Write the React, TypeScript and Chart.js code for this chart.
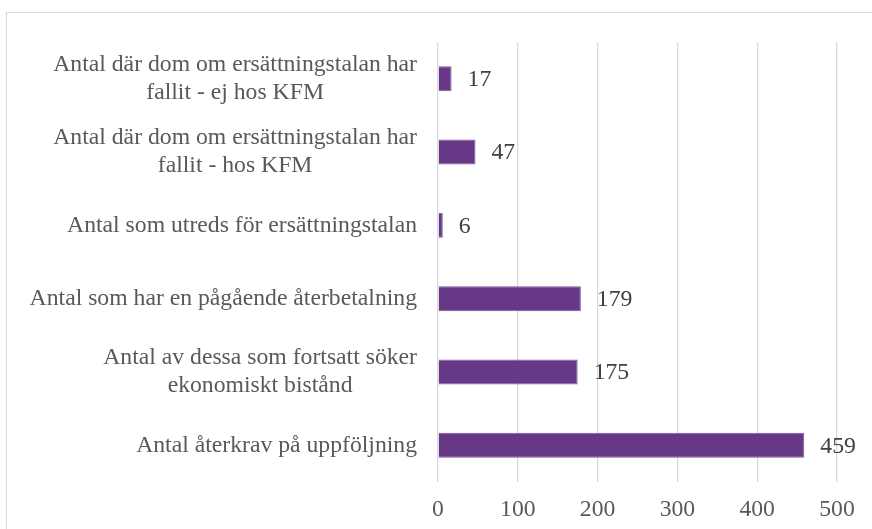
import React, { useEffect, useRef } from "react";
import { Chart, registerables } from "chart.js";

Chart.register(...registerables);

const categories: string[][] = [
  ["Antal där dom om ersättningstalan har", "fallit - ej hos KFM"],
  ["Antal där dom om ersättningstalan har", "fallit - hos KFM"],
  ["Antal som utreds för ersättningstalan"],
  ["Antal som har en pågående återbetalning"],
  ["Antal av dessa som fortsatt söker", "ekonomiskt bistånd"],
  ["Antal återkrav på uppföljning"],
];
const values: number[] = [17, 47, 6, 179, 175, 459];
const xTicks: number[] = [0, 100, 200, 300, 400, 500];

const FONT = "'Liberation Serif', 'Times New Roman', serif";
const FONT_SIZE = 23.7;
const BAR_COLOR = "#673886";

export default function App() {
  const ref = useRef<HTMLCanvasElement | null>(null);

  useEffect(() => {
    if (!ref.current) return;
    const labelPlugin = {
      id: "customLabels",
      afterDatasetsDraw(chart: any) {
        const ctx = chart.ctx;
        const y = chart.scales.y;
        const meta = chart.getDatasetMeta(0);
        ctx.save();
        ctx.font = `${FONT_SIZE}px ${FONT}`;
        ctx.fillStyle = "#595959";
        ctx.textBaseline = "middle";
        const rightX = chart.chartArea.left - 21;
        const lh = 28;
        categories.forEach((lines, i) => {
          const cy = y.getPixelForValue(i);
          const widths = lines.map((l) => ctx.measureText(l).width);
          const w = Math.max(...widths);
          const cx = rightX - w / 2;
          ctx.textAlign = "center";
          lines.forEach((l, j) => {
            const ly = cy + (j - (lines.length - 1) / 2) * lh;
            ctx.fillText(l, cx, ly);
          });
        });
        ctx.fillStyle = "#404040";
        ctx.textAlign = "left";
        meta.data.forEach((bar: any, i: number) => {
          ctx.fillText(String(values[i]), bar.x + 16, bar.y + 1);
        });
        ctx.restore();
      },
    };

    const chart = new Chart(ref.current, {
      type: "bar",
      data: {
        labels: categories.map((c) => c.join(" ")),
        datasets: [
          {
            data: values,
            backgroundColor: BAR_COLOR,
            borderColor: "#7d56a0",
            borderWidth: 1,
            barPercentage: 0.68,
            categoryPercentage: 0.5,
          },
        ],
      },
      options: {
        indexAxis: "y",
        animation: false,
        responsive: false,
        maintainAspectRatio: false,
        layout: { padding: { top: 42, right: 35, bottom: 0, left: 0 } },
        plugins: {
          legend: { display: false },
          tooltip: { enabled: false },
        },
        scales: {
          x: {
            min: 0,
            max: 500,
            afterBuildTicks: (scale: any) => {
              scale.ticks = xTicks.map((v) => ({ value: v }));
            },
            afterFit: (scale: any) => {
              scale.height = 47;
            },
            border: { display: false },
            grid: { color: "#d9d9d9", lineWidth: 1.3, drawTicks: false },
            ticks: {
              padding: 14,
              color: "#595959",
              font: { family: FONT, size: FONT_SIZE },
            },
          },
          y: {
            afterFit: (scale: any) => {
              scale.width = 438;
            },
            border: { display: false },
            grid: { display: false },
            ticks: { display: false },
          },
        },
      },
      plugins: [labelPlugin],
    });
    return () => chart.destroy();
  }, []);

  return (
    <div style={{ position: "fixed", left: 0, top: 0, width: 872, height: 529, background: "#fff", overflow: "hidden" }}>
      <div
        style={{
          position: "absolute",
          left: 6,
          top: 12,
          width: 900,
          height: 600,
          border: "1px solid #d9d9d9",
          boxSizing: "border-box",
        }}
      />
      <canvas ref={ref} width={872} height={529} style={{ position: "absolute", left: 0, top: 0 }} />
    </div>
  );
}
